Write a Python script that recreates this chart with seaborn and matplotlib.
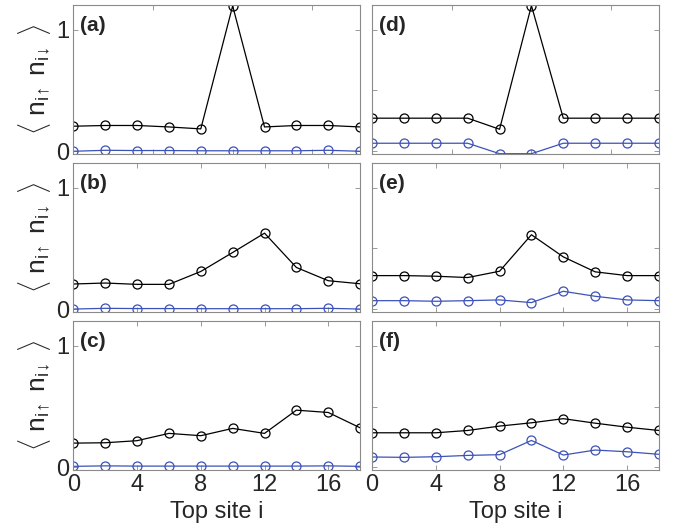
import matplotlib
matplotlib.use("Agg")
import matplotlib.pyplot as plt
import numpy as np
import pandas as pd
import seaborn as sns

# top site index
sites = [0, 2, 4, 6, 8, 10, 12, 14, 16, 18]

# black curves, panels (a)-(f)
black_a = [0.206, 0.212, 0.212, 0.200, 0.184, 1.195, 0.200, 0.212, 0.212, 0.200]
black_b = [0.208, 0.216, 0.205, 0.205, 0.311, 0.467, 0.626, 0.344, 0.235, 0.210]
black_c = [0.199, 0.202, 0.219, 0.279, 0.260, 0.320, 0.279, 0.470, 0.451, 0.325]
black_d = [0.272, 0.272, 0.272, 0.272, 0.181, 1.198, 0.272, 0.272, 0.272, 0.272]
black_e = [0.277, 0.277, 0.272, 0.261, 0.313, 0.613, 0.431, 0.308, 0.277, 0.277]
black_f = [0.284, 0.284, 0.284, 0.303, 0.339, 0.366, 0.400, 0.363, 0.330, 0.303]

# blue curves, panels (a)-(f)
blue_a = [0.000, 0.008, 0.006, 0.006, 0.004, 0.004, 0.004, 0.004, 0.008, 0.000]
blue_b = [0.002, 0.008, 0.006, 0.006, 0.005, 0.005, 0.005, 0.005, 0.008, 0.002]
blue_c = [0.008, 0.012, 0.010, 0.010, 0.010, 0.010, 0.010, 0.010, 0.012, 0.008]
blue_d = [0.066, 0.066, 0.066, 0.066, -0.020, -0.020, 0.066, 0.066, 0.066, 0.066]
blue_e = [0.071, 0.071, 0.066, 0.071, 0.077, 0.055, 0.148, 0.107, 0.077, 0.071]
blue_f = [0.085, 0.082, 0.087, 0.098, 0.104, 0.221, 0.101, 0.142, 0.128, 0.107]

panel_labels = ["(a)", "(d)", "(b)", "(e)", "(c)", "(f)"]
black_series = [black_a, black_d, black_b, black_e, black_c, black_f]
blue_series = [blue_a, blue_d, blue_b, blue_e, blue_c, blue_f]

BLUE = "#3d52b8"
SPINE = "#8a8a8a"

sns.set_style("ticks")
plt.rcParams["font.family"] = ["Liberation Sans", "DejaVu Sans"]
plt.rcParams["mathtext.fontset"] = "custom"
plt.rcParams["mathtext.rm"] = "Liberation Sans"
plt.rcParams["mathtext.it"] = "Liberation Sans"

fig, axes = plt.subplots(3, 2, figsize=(6.73, 5.32), dpi=100)
fig.subplots_adjust(left=0.109, right=0.979, top=0.990, bottom=0.117,
                    wspace=0.042, hspace=0.065)

ylab = (r"$\langle\ \mathrm{n}_{\mathrm{i}\!\uparrow}\ "
        r"\mathrm{n}_{\mathrm{i}\!\downarrow}\ \rangle$")

for k, ax in enumerate(axes.flat):
    row, col = divmod(k, 2)
    df = pd.DataFrame({"site": sites, "black": black_series[k],
                       "blue": blue_series[k]})
    sns.lineplot(data=df, x="site", y="black", ax=ax, color="black",
                 marker="o", markersize=6.5, mfc="none", mec="black",
                 mew=0.9, lw=0.9)
    sns.lineplot(data=df, x="site", y="blue", ax=ax, color=BLUE,
                 marker="o", markersize=6.5, mfc="none", mec=BLUE,
                 mew=0.9, lw=0.9)

    ax.set_xlim(0, 18)
    ax.set_ylim(-0.02, 1.2)
    if row == 0:
        ax.set_xticks([5, 10, 15])
    else:
        ax.set_xticks([0, 4, 8, 12, 16])
    if col == 0:
        ax.set_yticks([0, 1])
        ax.set_ylabel(ylab, fontsize=19, labelpad=2)
    else:
        ax.set_yticks([0, 0.5, 1])
        ax.set_yticklabels([])
        ax.set_ylabel("")
    if row == 2:
        ax.set_xlabel("Top site i", fontsize=17, labelpad=4)
    else:
        ax.set_xticklabels([])
        ax.set_xlabel("")

    ax.tick_params(direction="in", top=True, right=True, length=3.5,
                   width=0.6, color=SPINE, labelsize=17, pad=3)
    for s in ax.spines.values():
        s.set_color(SPINE)
        s.set_linewidth(0.8)

    ax.text(0.024, 0.865, panel_labels[k], transform=ax.transAxes,
            fontsize=15, fontweight="bold", va="center", ha="left")

fig.savefig("out.png", dpi=100)
